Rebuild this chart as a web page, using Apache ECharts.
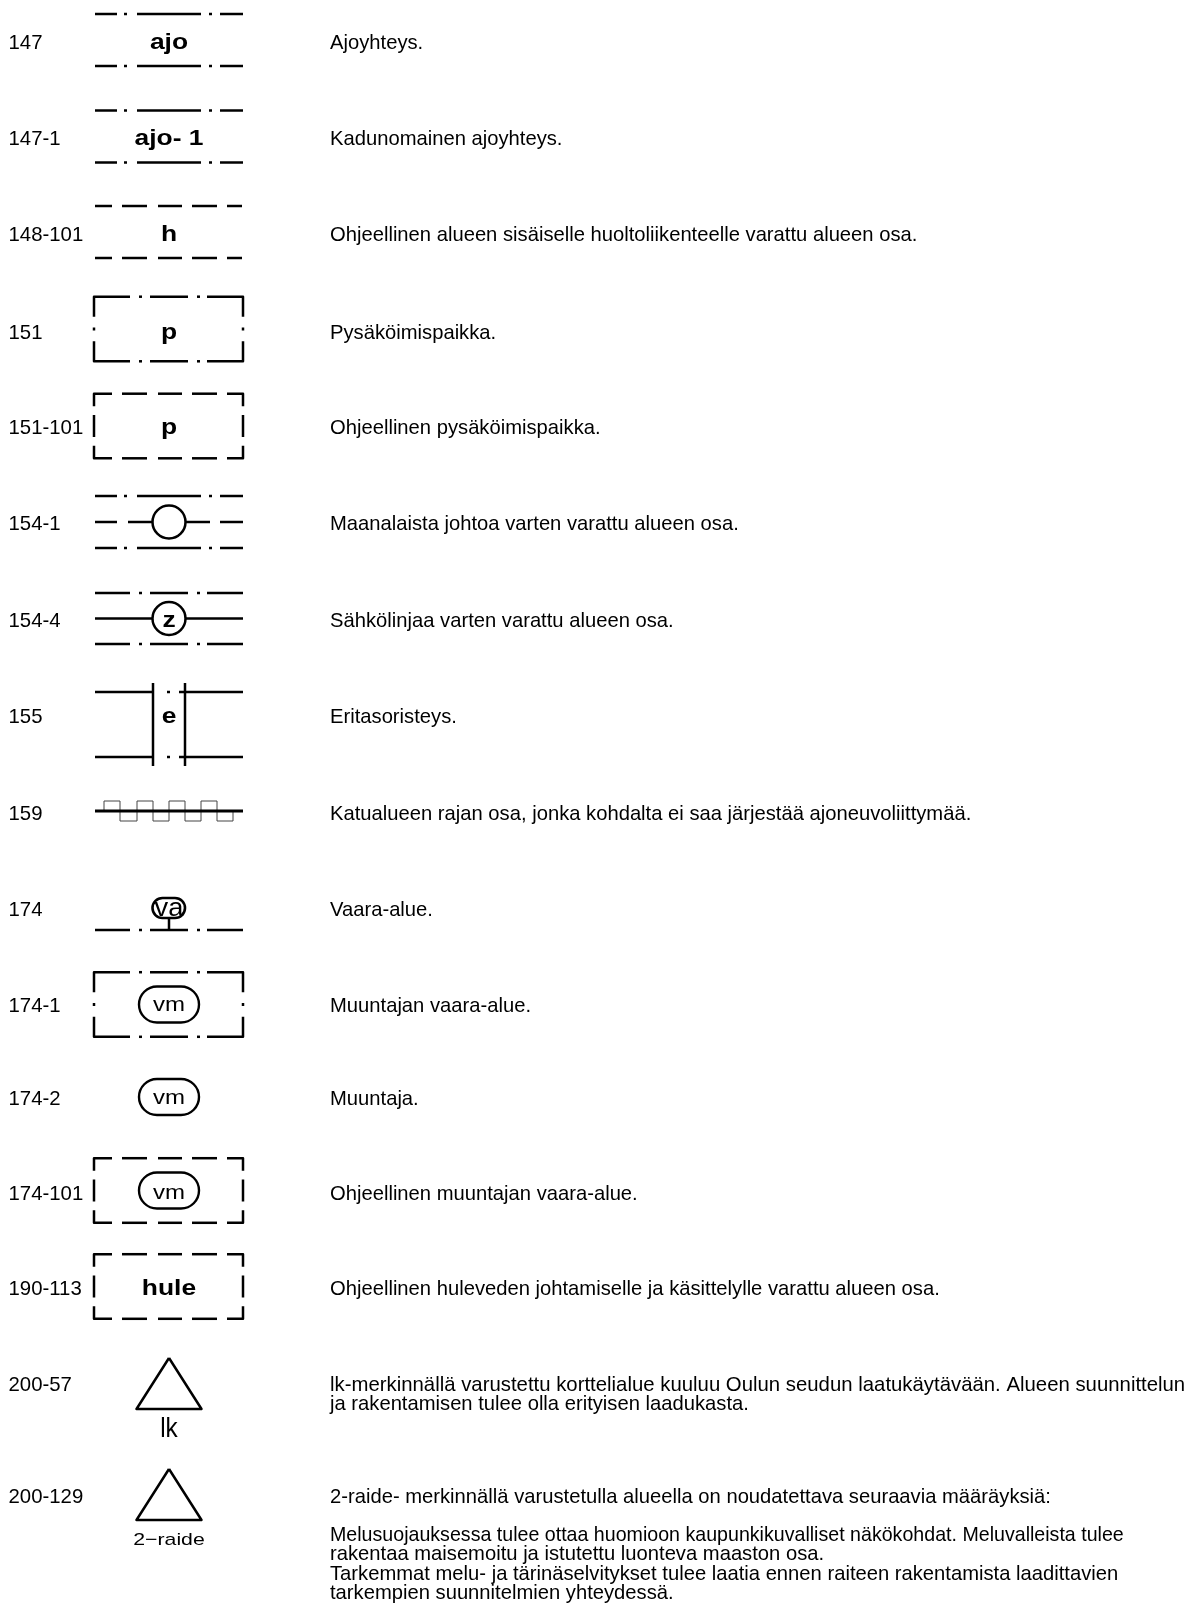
<!DOCTYPE html>
<html>
<head>
<meta charset="utf-8">
<title>Kaavamerkinnät</title>
<style>
html, body { margin: 0; padding: 0; background: #fff; }
#main { width: 1190px; height: 1604px; }
</style>
</head>
<body>
<div id="main"></div>
<script src="https://cdn.jsdelivr.net/npm/echarts@6/dist/echarts.min.js"></script>
<script>
const codes = ['147', '147-1', '148-101', '151', '151-101', '154-1', '154-4', '155', '159',
    '174', '174-1', '174-2', '174-101', '190-113', '200-57', '200-129'];
const symbols = ['road', 'road', 'roadGuide', 'area', 'areaGuide', 'cable', 'power', 'crossing', 'noAccess',
    'danger', 'area', 'none', 'areaGuide', 'areaGuide', 'triangle', 'triangle'];
const marks = ['ajo', 'ajo- 1', 'h', 'p', 'p', '', 'z', 'e', '', 'va', 'vm', 'vm', 'vm', 'hule', 'lk', '2−raide'];
const descriptions = [
    ['Ajoyhteys.'],
    ['Kadunomainen ajoyhteys.'],
    ['Ohjeellinen alueen sisäiselle huoltoliikenteelle varattu alueen osa.'],
    ['Pysäköimispaikka.'],
    ['Ohjeellinen pysäköimispaikka.'],
    ['Maanalaista johtoa varten varattu alueen osa.'],
    ['Sähkölinjaa varten varattu alueen osa.'],
    ['Eritasoristeys.'],
    ['Katualueen rajan osa, jonka kohdalta ei saa järjestää ajoneuvoliittymää.'],
    ['Vaara-alue.'],
    ['Muuntajan vaara-alue.'],
    ['Muuntaja.'],
    ['Ohjeellinen muuntajan vaara-alue.'],
    ['Ohjeellinen huleveden johtamiselle ja käsittelylle varattu alueen osa.'],
    ['lk-merkinnällä varustettu korttelialue kuuluu Oulun seudun laatukäytävään. Alueen suunnittelun',
        'ja rakentamisen tulee olla erityisen laadukasta.'],
    ['2-raide- merkinnällä varustetulla alueella on noudatettava seuraavia määräyksiä:',
        '',
        'Melusuojauksessa tulee ottaa huomioon kaupunkikuvalliset näkökohdat. Meluvalleista tulee',
        'rakentaa maisemoitu ja istutettu luonteva maaston osa.',
        'Tarkemmat melu- ja tärinäselvitykset tulee laatia ennen raiteen rakentamista laadittavien',
        'tarkempien suunnitelmien yhteydessä.']
];
// y of each row's text line on the page
const rowY = [43, 139, 235, 333, 428, 524, 621, 717, 814, 910, 1006, 1099, 1194, 1289, 1385, 1497];
// y of each symbol's middle
const symbolY = [40, 136.5, 232, 329, 426, 522, 618.5, 724.5, 811, 930, 1004.5, 1097, 1190.5, 1286.5, 1358, 1469];

// x breaks of the line styles, a short pair is a dot
const dashDotShort = [[95, 117], [124, 127], [137, 201], [209, 212], [220, 243]];
const dashDotLong = [[95, 130], [139, 142], [150, 188], [197, 200], [207, 243]];
const dashed = [[95, 112], [122, 147], [158, 182], [192, 217], [227, 242]];

function renderRow(params, api) {
    const i = api.value(0);
    const kids = [];
    const line = function (pts, width, color) {
        kids.push({
            type: 'polyline',
            shape: { points: pts.map(function (p) { return api.coord(p); }) },
            style: { stroke: color || '#000', lineWidth: width || 2.5, fill: null, lineJoin: 'round' }
        });
    };
    const hline = function (breaks, y) {
        breaks.forEach(function (b) { line([[b[0], y], [b[1], y]]); });
    };
    const text = function (str, x, y, font, scaleX, align) {
        const p = api.coord([x, y]);
        kids.push({
            type: 'text',
            x: p[0], y: p[1], scaleX: scaleX,
            style: { text: str, x: 0, y: 0, font: font, fill: '#000', align: align, verticalAlign: 'middle' }
        });
    };
    const circle = function (x, y, r) {
        const p = api.coord([x, y]);
        kids.push({ type: 'circle', shape: { cx: p[0], cy: p[1], r: r },
            style: { stroke: '#000', lineWidth: 2.5, fill: null } });
    };
    const stadium = function (x0, x1, y, h, width) {
        const a = api.coord([x0, y - h / 2]);
        const b = api.coord([x1, y + h / 2]);
        kids.push({ type: 'rect', shape: { x: a[0], y: a[1], width: b[0] - a[0], height: b[1] - a[1], r: h / 2 },
            style: { stroke: '#000', lineWidth: width, fill: null } });
    };
    const areaBox = function (y, breaks, sideTop, sideMid) {
        const t = y - 32.3;
        const b = y + 32.3;
        const n = breaks.length - 1;
        line([[94, t + sideTop], [94, t], [breaks[0][1], t]]);
        line([[94, b - sideTop], [94, b], [breaks[0][1], b]]);
        line([[243, t + sideTop], [243, t], [breaks[n][0], t]]);
        line([[243, b - sideTop], [243, b], [breaks[n][0], b]]);
        hline(breaks.slice(1, n), t);
        hline(breaks.slice(1, n), b);
        [94, 243].forEach(function (x) { line([[x, y - sideMid], [x, y + sideMid]]); });
    };

    const y = symbolY[i];
    const kind = symbols[i];
    if (kind === 'road') {
        hline(dashDotShort, y - 26);
        hline(dashDotShort, y + 26);
    } else if (kind === 'roadGuide') {
        hline(dashed, y - 26);
        hline(dashed, y + 26);
    } else if (kind === 'area') {
        areaBox(y, dashDotLong, 20, 1.5);
    } else if (kind === 'areaGuide') {
        areaBox(y, dashed, 12.5, 11);
    } else if (kind === 'cable') {
        hline(dashDotShort, y - 26);
        hline(dashDotShort, y + 26);
        hline([[95, 117], [128, 153], [185, 210], [220, 243]], y);
        circle(169, y, 16.5);
    } else if (kind === 'power') {
        hline(dashDotLong, y - 25.5);
        hline(dashDotLong, y + 25.5);
        hline([[95, 153], [185, 243]], y);
        circle(169, y, 16.5);
    } else if (kind === 'crossing') {
        [y - 32.5, y + 32.5].forEach(function (ly) {
            hline([[95, 153], [167, 170], [179, 243]], ly);
        });
        [153, 185].forEach(function (x) { line([[x, y - 41.5], [x, y + 41.5]]); });
    } else if (kind === 'noAccess') {
        const pts = [[104, y], [104, y - 10], [120, y - 10], [120, y + 10], [137, y + 10], [137, y - 10],
            [153, y - 10], [153, y + 10], [169, y + 10], [169, y - 10], [185, y - 10], [185, y + 10],
            [201, y + 10], [201, y - 10], [217, y - 10], [217, y + 10], [233, y + 10], [233, y]];
        line(pts, 1, '#444');
        line([[95, y], [243, y]], 2.8);
    } else if (kind === 'danger') {
        hline(dashDotLong, y);
        line([[169, y - 12], [169, y]]);
        stadium(152.5, 185, y - 22, 20, 2.6);
    } else if (kind === 'triangle') {
        line([[169, y], [201.5, y + 51], [136.5, y + 51], [169, y]]);
    }

    const m = marks[i];
    const my = rowY[i];
    if (m === 'vm') {
        stadium(139, 199, symbolY[i], 36, 2.4);
        text(m, 169, my - 1, '20px "Liberation Sans"', 1.2, 'center');
    } else if (m === 'lk') {
        text(m, 169, y + 72, '27px "Liberation Sans"', 0.9, 'center');
    } else if (m === '2−raide') {
        text(m, 169, y + 71.5, '17px "Liberation Sans"', 1.25, 'center');
    } else if (m === 'va') {
        text(m, 169, 909, '26px "Liberation Sans"', 1.05, 'center');
    } else if (m) {
        text(m, 169, my, 'bold 22px "Liberation Sans"', 1.2, 'center');
    }

    text(codes[i], 8.5, rowY[i], '21px "Liberation Sans"', 0.97, 'left');
    descriptions[i].forEach(function (str, k) {
        let stretch = 0.962;
        if (str.indexOf('Melusuojauksessa') === 0) stretch = 0.934;
        if (str.indexOf('lk-merkinnällä') === 0) stretch = 0.969;
        text(str, 330, rowY[i] + k * 19.2, '21px "Liberation Sans"', stretch, 'left');
    });
    return { type: 'group', children: kids };
}

const chart = echarts.init(document.getElementById('main'), null, { renderer: 'canvas' });
chart.setOption({
    animation: false,
    backgroundColor: '#fff',
    grid: { left: 0, right: 0, top: 0, bottom: 0 },
    xAxis: { type: 'value', min: 0, max: 1190, show: false },
    yAxis: { type: 'value', min: 0, max: 1604, inverse: true, show: false },
    tooltip: { show: false },
    series: [{
        type: 'custom',
        silent: true,
        clip: false,
        coordinateSystem: 'cartesian2d',
        encode: { x: 1, y: 2 },
        data: codes.map(function (c, i) { return [i, 169, symbolY[i]]; }),
        renderItem: renderRow
    }]
});
</script>
</body>
</html>
